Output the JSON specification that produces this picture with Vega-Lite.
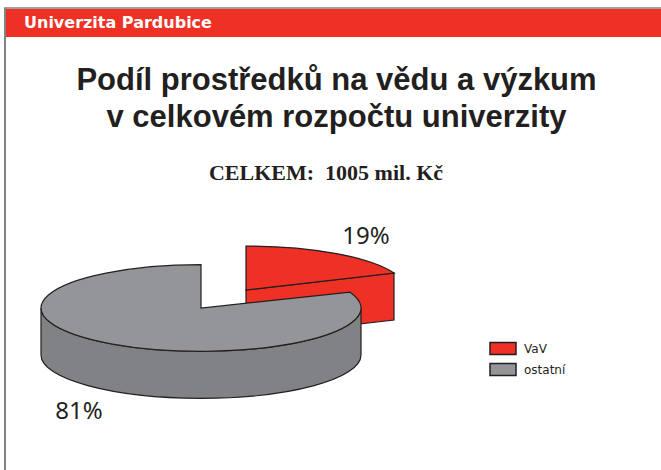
{
"$schema":"https://vega.github.io/schema/vega-lite/v6.json",
"width":661,"height":470,"padding":0,"autosize":{"type":"none"},"background":"white",
"config":{"view":{"stroke":null}},
"title":{"text":["Podíl prostředků na vědu a výzkum","v celkovém rozpočtu univerzity"],"anchor":"middle","frame":"group","offset":-134,"dx":6,"font":"Liberation Sans","fontWeight":"bold","fontSize":31,"lineHeight":37,"color":"#231F20"},
"data":{"values":[{"category":"VaV","share":19,"label":"19%"},{"category":"ostatní","share":81,"label":"81%"}]},
"layer":[
{"data":{"values":[{"name":"Univerzita Pardubice"}]},"mark":{"type":"rect","color":"#EE3124"},"encoding":{"x":{"datum":4,"scale":{"domain":[0,661],"range":[0,661]},"axis":null},"x2":{"datum":661},"y":{"datum":9,"scale":{"domain":[0,470],"range":[0,470]},"axis":null},"y2":{"datum":37}}},
{"data":{"values":[{"name":"Univerzita Pardubice"}]},"mark":{"type":"rule","color":"#808285","strokeWidth":2},"encoding":{"x":{"datum":5,"scale":{"domain":[0,661],"range":[0,661]},"axis":null},"y":{"datum":8,"scale":{"domain":[0,470],"range":[0,470]},"axis":null},"y2":{"datum":470}}},
{"data":{"values":[{"name":"Univerzita Pardubice"}]},"mark":{"type":"rule","color":"#808285","strokeWidth":1.5},"encoding":{"x":{"datum":4,"scale":{"domain":[0,661],"range":[0,661]},"axis":null},"x2":{"datum":661},"y":{"datum":8,"scale":{"domain":[0,470],"range":[0,470]},"axis":null}}},
{"data":{"values":[{"name":"Univerzita Pardubice"}]},"mark":{"type":"text","color":"white","font":"DejaVu Sans","fontWeight":"bold","fontSize":16,"align":"left","baseline":"alphabetic"},"encoding":{"x":{"datum":24,"scale":{"domain":[0,661],"range":[0,661]},"axis":null},"y":{"datum":28,"scale":{"domain":[0,470],"range":[0,470]},"axis":null},"text":{"field":"name"}}},
{"data":{"values":[{"name":"CELKEM:\u00a0\u00a01005 mil. Kč"}]},"mark":{"type":"text","color":"#231F20","font":"Liberation Serif","fontWeight":"bold","fontSize":22,"align":"center","baseline":"alphabetic"},"encoding":{"x":{"datum":326,"scale":{"domain":[0,661],"range":[0,661]},"axis":null},"y":{"datum":180,"scale":{"domain":[0,470],"range":[0,470]},"axis":null},"text":{"field":"name"}}},
{"transform":[{"filter":"datum.category==='VaV'"}],"mark":{"type":"point","shape":"M0,0L148,-17V30L0,47Z","size":4,"filled":true,"opacity":1,"stroke":"#231F20","strokeWidth":1.2},"encoding":{"x":{"field":"category","type":"nominal","scale":{"type":"point","padding":0,"domain":["ostatní","VaV"],"range":[201,246]},"axis":null},"y":{"field":"category","type":"nominal","scale":{"type":"point","padding":0,"domain":["VaV","ostatní"],"range":[290,308]},"axis":null},"fill":{"field":"category","type":"nominal","scale":{"domain":["VaV","ostatní"],"range":["#EE3124","#939598"]},"legend":{"title":null,"orient":"none","legendX":489,"legendY":341,"symbolType":"M-1,-0.46H1V0.46H-1Z","symbolSize":676,"symbolStrokeColor":"#231F20","symbolStrokeWidth":1.5,"labelFont":"DejaVu Sans","labelFontSize":12,"labelColor":"#231F20","labelOffset":7,"rowPadding":6,"clipHeight":15}}}},
{"transform":[{"filter":"datum.category==='VaV'"}],"mark":{"type":"point","shape":"M0,0V-44A160,44,0,0,1,148,-17Z","size":4,"filled":true,"opacity":1,"stroke":"#231F20","strokeWidth":1.2},"encoding":{"x":{"field":"category","type":"nominal","scale":{"type":"point","padding":0,"domain":["ostatní","VaV"],"range":[201,246]},"axis":null},"y":{"field":"category","type":"nominal","scale":{"type":"point","padding":0,"domain":["VaV","ostatní"],"range":[290,308]},"axis":null},"fill":{"field":"category","type":"nominal"}}},
{"transform":[{"filter":"datum.category==='ostatní'"}],"mark":{"type":"point","shape":"M-160,0A160,43.3,0,0,0,160,0V47A160,43.3,0,0,1,-160,47Z","size":4,"filled":true,"opacity":1,"fill":"#808285","stroke":"#231F20","strokeWidth":1.2},"encoding":{"x":{"field":"category","type":"nominal","scale":{"type":"point","padding":0,"domain":["ostatní","VaV"],"range":[201,246]},"axis":null},"y":{"field":"category","type":"nominal","scale":{"type":"point","padding":0,"domain":["VaV","ostatní"],"range":[290,308]},"axis":null}}},
{"transform":[{"filter":"datum.category==='ostatní'"}],"mark":{"type":"point","shape":"M0,0V-43.3A160,43.3,0,1,0,149,-15.8Z","size":4,"filled":true,"opacity":1,"stroke":"#231F20","strokeWidth":1.2},"encoding":{"x":{"field":"category","type":"nominal","scale":{"type":"point","padding":0,"domain":["ostatní","VaV"],"range":[201,246]},"axis":null},"y":{"field":"category","type":"nominal","scale":{"type":"point","padding":0,"domain":["VaV","ostatní"],"range":[290,308]},"axis":null},"fill":{"field":"category","type":"nominal"}}},
{"transform":[{"filter":"datum.category==='VaV'"}],"mark":{"type":"text","font":"Noto Sans","fontSize":24,"color":"#231F20","dx":120,"dy":-53},"encoding":{"x":{"field":"category","type":"nominal","scale":{"type":"point","padding":0,"domain":["ostatní","VaV"],"range":[201,246]},"axis":null},"y":{"field":"category","type":"nominal","scale":{"type":"point","padding":0,"domain":["VaV","ostatní"],"range":[290,308]},"axis":null},"text":{"field":"label"}}},
{"transform":[{"filter":"datum.category==='ostatní'"}],"mark":{"type":"text","font":"Noto Sans","fontSize":24,"color":"#231F20","dx":-122,"dy":104},"encoding":{"x":{"field":"category","type":"nominal","scale":{"type":"point","padding":0,"domain":["ostatní","VaV"],"range":[201,246]},"axis":null},"y":{"field":"category","type":"nominal","scale":{"type":"point","padding":0,"domain":["VaV","ostatní"],"range":[290,308]},"axis":null},"text":{"field":"label"}}}
],
"resolve":{"scale":{"x":"independent","y":"independent"}}
}
